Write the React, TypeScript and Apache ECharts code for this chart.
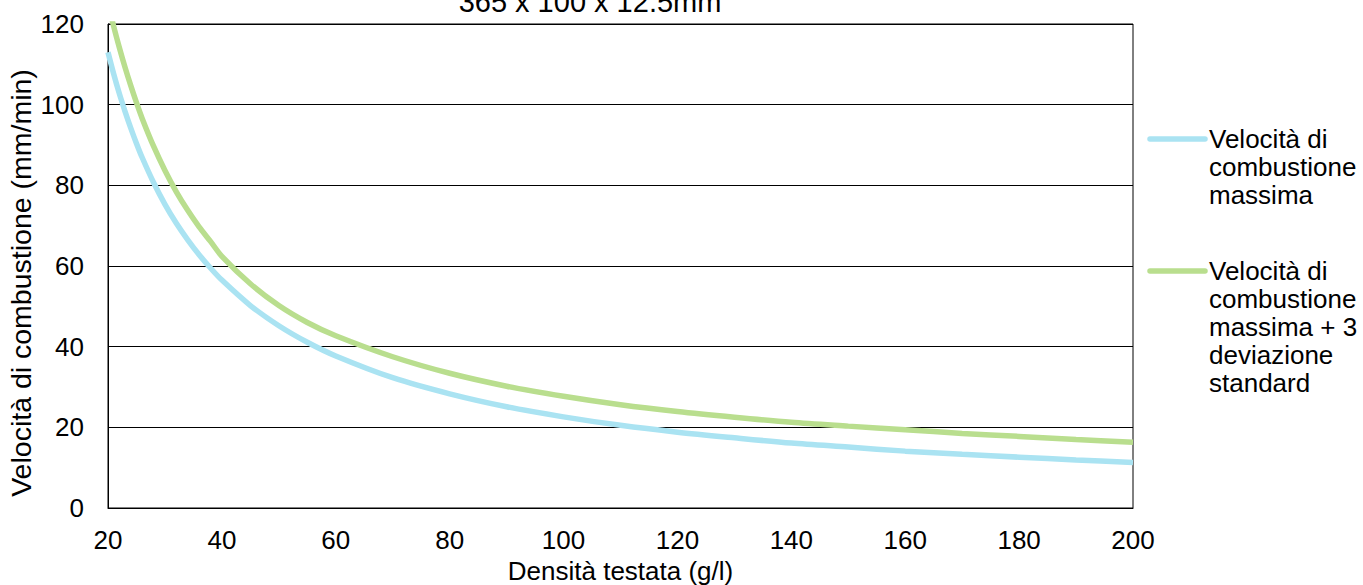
import React, { useEffect, useRef } from "react";
import * as echarts from "echarts";

const titleText = "365 x 100 x 12.5mm";
const xAxisTitle = "Densità testata (g/l)";
const yAxisTitle = "Velocità di combustione (mm/min)";
const seriesNames = [
  "Velocità di\ncombustione\nmassima",
  "Velocità di\ncombustione\nmassima + 3\ndeviazione\nstandard",
];
const densities = [20, 21, 22, 23, 24, 25, 26, 28, 30, 32, 34, 36, 38, 40, 45, 50, 55, 60, 70, 80, 90, 100, 110, 120, 130, 140, 150, 160, 170, 180, 190, 200];
const maxSpeed = [113, 107.6, 102.7, 98.3, 94.2, 90.4, 86.9, 80.7, 75.3, 70.6, 66.5, 62.8, 59.5, 56.5, 50.2, 45.2, 41.1, 37.7, 32.3, 28.3, 25.1, 22.6, 20.5, 18.8, 17.4, 16.1, 15.1, 14.1, 13.3, 12.6, 11.9, 11.3];
const maxSpeedPlus3Sd = [125.3, 119.4, 114.1, 109.2, 104.7, 100.5, 96.6, 89.7, 83.7, 78.4, 73.8, 69.7, 66.1, 62.4, 55.6, 50.2, 46, 42.7, 37.5, 33.4, 30.2, 27.7, 25.6, 23.9, 22.5, 21.25, 20.3, 19.4, 18.5, 17.75, 17, 16.3];
const colors = ["#aae3f2", "#b9de8e"];

const FONT = "'Liberation Sans', Arial, sans-serif";
const F = 26;

export default function App() {
  const ref = useRef<HTMLDivElement>(null);
  useEffect(() => {
    if (!ref.current) return;
    const chart = echarts.init(ref.current, undefined, { renderer: "svg" });
    const mk = (ys: number[]) => densities.map((x, i) => [x, ys[i]]);
    const line = (name: string, ys: number[], color: string) => ({
      type: "line",
      name,
      data: mk(ys),
      smooth: 0.3,
      showSymbol: false,
      lineStyle: { color, width: 5.5 },
      itemStyle: { color },
      clip: true,
      z: 3,
    });
    chart.setOption({
      animation: false,
      textStyle: { fontFamily: FONT },
      grid: {
        left: 108,
        right: 230,
        top: 24,
        bottom: 77,
        outerBoundsMode: "none",
        containLabel: false,
        show: true,
        borderColor: "#000",
        borderWidth: 1,
        backgroundColor: "transparent",
      },
      xAxis: {
        type: "value",
        min: 20,
        max: 200,
        interval: 20,
        name: xAxisTitle,
        nameLocation: "middle",
        nameGap: 50,
        nameTextStyle: { fontSize: F, color: "#000", fontFamily: FONT },
        axisLine: { show: true, lineStyle: { color: "#000", width: 1 } },
        axisTick: { show: false },
        splitLine: { show: false },
        axisLabel: { fontSize: F, color: "#000", margin: 19, fontFamily: FONT },
      },
      yAxis: {
        type: "value",
        min: 0,
        max: 120,
        interval: 20,
        axisLine: { show: true, lineStyle: { color: "#000", width: 1 } },
        axisTick: { show: false },
        splitLine: { show: true, lineStyle: { color: "#000", width: 1 } },
        axisLabel: { fontSize: F, color: "#000", margin: 24, fontFamily: FONT },
      },
      series: [
        line(seriesNames[0], maxSpeed, colors[0]),
        line(seriesNames[1], maxSpeedPlus3Sd, colors[1]),
      ],
      graphic: [
        {
          type: "text",
          x: 590,
          y: 2,
          style: { text: titleText, font: `29px ${FONT}`, fill: "#000", align: "center", verticalAlign: "middle" },
        },
        {
          type: "text",
          x: 21,
          y: 283,
          rotation: Math.PI / 2,
          style: { text: yAxisTitle, font: `28.5px ${FONT}`, fill: "#000", align: "center", verticalAlign: "middle" },
        },
        {
          type: "line",
          shape: { x1: 1150, y1: 139, x2: 1205, y2: 139 },
          style: { stroke: colors[0], lineWidth: 5.5, lineCap: "round" },
        },
        {
          type: "text",
          x: 1209,
          y: 125,
          style: { text: seriesNames[0], font: `${F}px ${FONT}`, lineHeight: 28, fill: "#000", align: "left", verticalAlign: "top" },
        },
        {
          type: "line",
          shape: { x1: 1150, y1: 271, x2: 1205, y2: 271 },
          style: { stroke: colors[1], lineWidth: 5.5, lineCap: "round" },
        },
        {
          type: "text",
          x: 1209,
          y: 257,
          style: { text: seriesNames[1], font: `${F}px ${FONT}`, lineHeight: 28, fill: "#000", align: "left", verticalAlign: "top" },
        },
      ],
    });
    return () => chart.dispose();
  }, []);
  return <div ref={ref} style={{ position: "absolute", left: 0, top: 0, width: 1363, height: 585 }} />;
}
